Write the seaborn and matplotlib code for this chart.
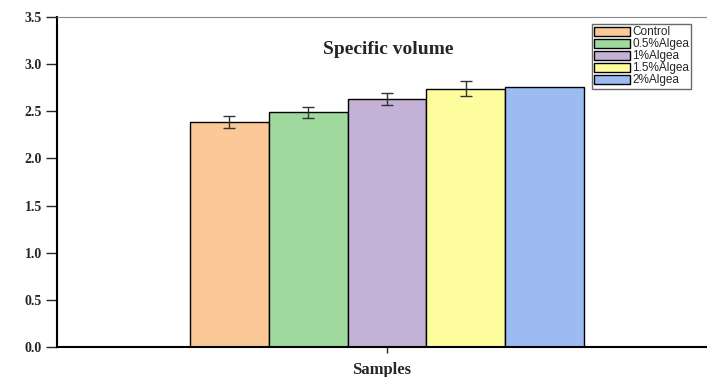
import matplotlib
matplotlib.use("Agg")
import matplotlib.pyplot as plt
import seaborn as sns
import pandas as pd
import numpy as np

# data
groups = ["Control", "0.5%Algea", "1%Algea", "1.5%Algea", "2%Algea"]
values = [2.39, 2.49, 2.63, 2.74, 2.76]
errors = [0.065, 0.06, 0.065, 0.08, 0.0]
colors = ["#fbc897", "#a0d99e", "#c3b1d6", "#fdfd9d", "#9cbbf2"]

df = pd.DataFrame({"Samples": [""] * len(groups), "group": groups, "value": values})

sns.set_style("white")
fig = plt.figure(figsize=(7.07, 3.77), dpi=100)
ax = fig.add_axes([57 / 707, 30 / 377, 650 / 707, 330 / 377])

sns.barplot(data=df, x="Samples", y="value", hue="group", hue_order=groups,
            palette=colors, saturation=1, errorbar=None, edgecolor="black",
            linewidth=1.0, width=0.8, ax=ax, legend=True)

# error bars on top of each bar
for patch, err in zip(ax.patches, errors):
    if err > 0:
        xc = patch.get_x() + patch.get_width() / 2
        ax.errorbar(xc, patch.get_height(), yerr=err, fmt="none", ecolor="#333333",
                    elinewidth=1.0, capsize=4, capthick=1.0)

ax.set_xlim(-0.67, 0.65)
ax.set_ylim(0, 3.5)
ax.set_yticks(np.arange(0, 3.51, 0.5))
ax.set_yticklabels([f"{v:.1f}" for v in np.arange(0, 3.51, 0.5)],
                   fontfamily="Liberation Serif", fontweight="bold", fontsize=10)
ax.tick_params(axis="y", direction="out", length=8, width=1, left=True, pad=3)
ax.tick_params(axis="x", direction="out", length=4, width=1, bottom=True, pad=0)

ax.spines["right"].set_visible(False)
ax.spines["top"].set_color("#888888")
ax.spines["top"].set_linewidth(0.8)
ax.spines["left"].set_linewidth(1.5)
ax.spines["bottom"].set_linewidth(1.5)
ax.spines["left"].set_color("black")
ax.spines["bottom"].set_color("black")

ax.set_ylabel("")
ax.set_xlabel("Samples", fontfamily="Liberation Serif", fontweight="bold", fontsize=12, labelpad=7)

ax.text(0.51, 0.90, "Specific volume", transform=ax.transAxes, ha="center", va="center",
        fontfamily="Liberation Serif", fontweight="bold", fontsize=14)

leg = ax.legend(loc="upper left", bbox_to_anchor=(592 / 707, 1 - 24 / 377),
                bbox_transform=fig.transFigure, frameon=True, fancybox=False,
                prop={"family": "Liberation Sans", "size": 8.5},
                handlelength=3.0, handleheight=0.8, handletextpad=0.2,
                labelspacing=0.0, borderpad=0.2, borderaxespad=0)
leg.get_frame().set_edgecolor("#444444")
leg.get_frame().set_linewidth(1.0)

fig.savefig("out.png", dpi=100)
